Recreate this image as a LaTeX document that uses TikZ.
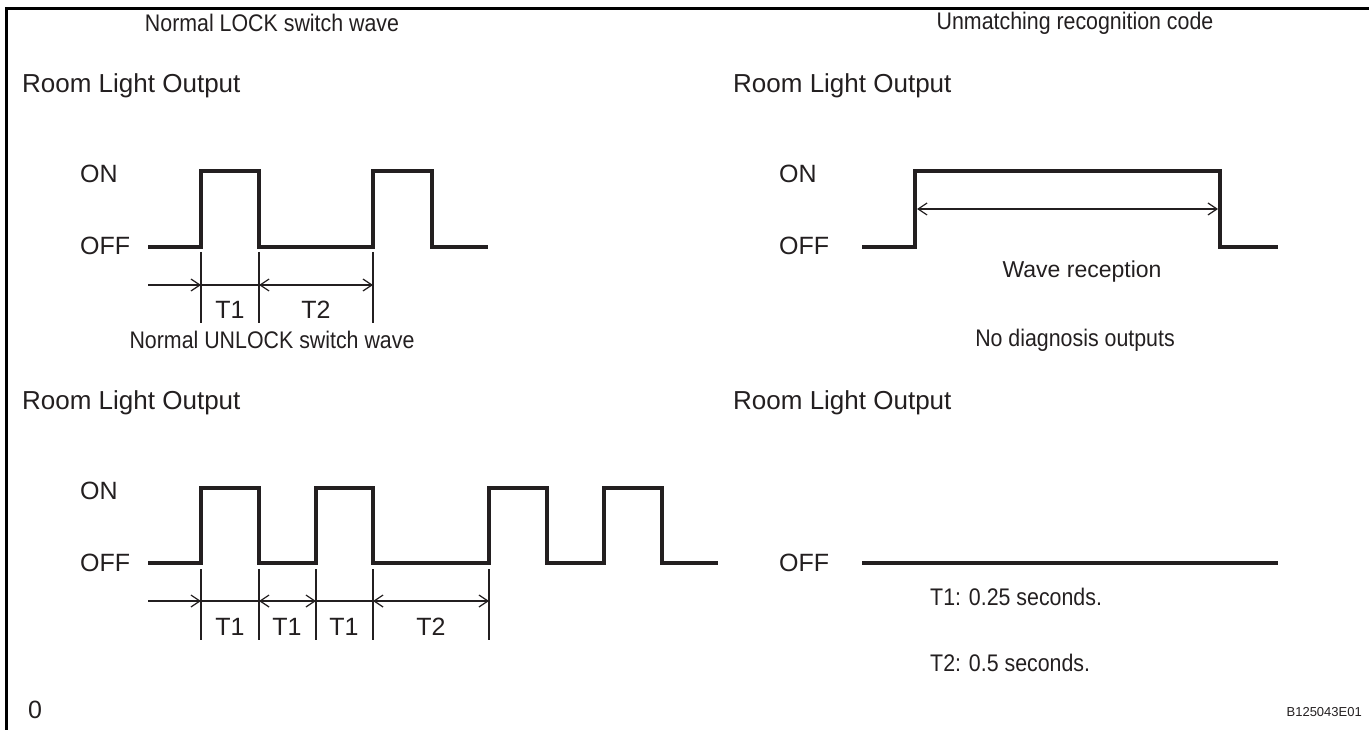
\documentclass[tikz,border=0pt]{standalone}
\usepackage{fontspec}
\setmainfont{Liberation Sans}
\newfontfamily\narrowsans[FakeStretch=0.89]{Liberation Sans}
\usetikzlibrary{arrows.meta}
\definecolor{ink}{HTML}{231F20}
\begin{document}
\begin{tikzpicture}[x=1pt,y=-1pt,
  lbl/.style={inner sep=0pt,font=\fontsize{25}{28}\selectfont,text=ink},
  rlo/.style={inner sep=0pt,font=\fontsize{26}{30}\selectfont,text=ink},
  ttl/.style={inner sep=0pt,font=\narrowsans\fontsize{24}{28}\selectfont,text=ink},
  note/.style={inner sep=0pt,font=\narrowsans\fontsize{24}{28}\selectfont,text=ink},
  wave/.style={line width=3.8pt,line join=miter,ink},
  tick/.style={line width=1.2pt,ink},
  dim/.style={line width=1.2pt,ink},
  tip/.style={-{Straight Barb[length=9pt,width=12pt,line width=1.2pt]}},
  tips/.style={{Straight Barb[length=9pt,width=12pt,line width=1.2pt]}-{Straight Barb[length=9pt,width=12pt,line width=1.2pt]}}]
\useasboundingbox (0,0) rectangle (1369,730);
\draw[line width=3pt] (6,730) -- (6,9) -- (1369,9);

% ---------- top left ----------
\node[ttl] (t1) at (272,23) {Normal LOCK switch wave};
\node[rlo,anchor=west] (r1) at (22,86) {Room Light Output};
\node[lbl,anchor=west] (on1) at (80,174) {ON};
\node[lbl,anchor=west] (off1) at (80,246) {OFF};
\draw[wave] (148,247) -- (201,247) -- (201,171) -- (259,171) -- (259,247) -- (373,247) -- (373,171) -- (432,171) -- (432,247) -- (488,247);
\foreach \x/\n in {201/a,259/b,373/c}{
  \draw[tick] (\x,252) -- (\x,323);
  \coordinate (A\n) at (\x,285);
}
\coordinate (A0) at (148,285);
\draw[dim,tip] (A0) -- (Aa);
\draw[dim] (Aa) -- (Ab);
\draw[dim,tips] (Ab) -- (Ac);
\node[lbl] (l1) at (230,310) {T1};
\node[lbl] (l2) at (316,310) {T2};

% ---------- top right ----------
\node[ttl] (t2) at (1075,23) {Unmatching recognition code};
\node[rlo,anchor=west] (r2) at (733,86) {Room Light Output};
\node[lbl,anchor=west] (on2) at (779,174) {ON};
\node[lbl,anchor=west] (off2) at (779,246) {OFF};
\draw[wave] (862,247) -- (915,247) -- (915,171) -- (1220,171) -- (1220,247) -- (1278,247);
\coordinate (B1) at (917,209);
\coordinate (B2) at (1218,209);
\draw[dim,tips] (B1) -- (B2);
\node[font=\fontsize{23}{27}\selectfont,text=ink,inner sep=0pt] (wr) at (1082,272) {Wave reception};

% ---------- bottom left ----------
\node[ttl] (t3) at (272,340) {Normal UNLOCK switch wave};
\node[rlo,anchor=west] (r3) at (22,403) {Room Light Output};
\node[lbl,anchor=west] (on3) at (80,491) {ON};
\node[lbl,anchor=west] (off3) at (80,563) {OFF};
\draw[wave] (148,563) -- (201,563) -- (201,488) -- (259,488) -- (259,563) -- (316,563) -- (316,488) -- (373,488) -- (373,563) -- (489,563) -- (489,488) -- (547,488) -- (547,563) -- (604,563) -- (604,488) -- (662,488) -- (662,563) -- (718,563);
\foreach \x/\n in {201/a,259/b,316/c,373/d,489/e}{
  \draw[tick] (\x,569) -- (\x,640);
  \coordinate (C\n) at (\x,601);
}
\coordinate (C0) at (148,601);
\draw[dim,tip] (C0) -- (Ca);
\draw[dim] (Ca) -- (Cb);
\draw[dim,tips] (Cb) -- (Cc);
\draw[dim] (Cc) -- (Cd);
\draw[dim,tips] (Cd) -- (Ce);
\node[lbl] (m1) at (230,627) {T1};
\node[lbl] (m2) at (287,627) {T1};
\node[lbl] (m3) at (344,627) {T1};
\node[lbl] (m4) at (431,627) {T2};

% ---------- bottom right ----------
\node[ttl] (t4) at (1075,340) {No diagnosis outputs};
\node[rlo,anchor=west] (r4) at (733,403) {Room Light Output};
\node[lbl,anchor=west] (off4) at (779,563) {OFF};
\draw[wave] (862,563) -- (1278,563);
\node[note,anchor=west] (n1) at (930,597) {T1: 0.25 seconds.};
\node[note,anchor=west] (n2) at (930,663) {T2: 0.5 seconds.};

\node[lbl,anchor=west] (zero) at (28,710) {0};
\node[inner sep=0pt,anchor=east,font=\fontsize{13}{15}\selectfont,text=ink] (code) at (1362,712) {B125043E01};
\end{tikzpicture}
\end{document}
